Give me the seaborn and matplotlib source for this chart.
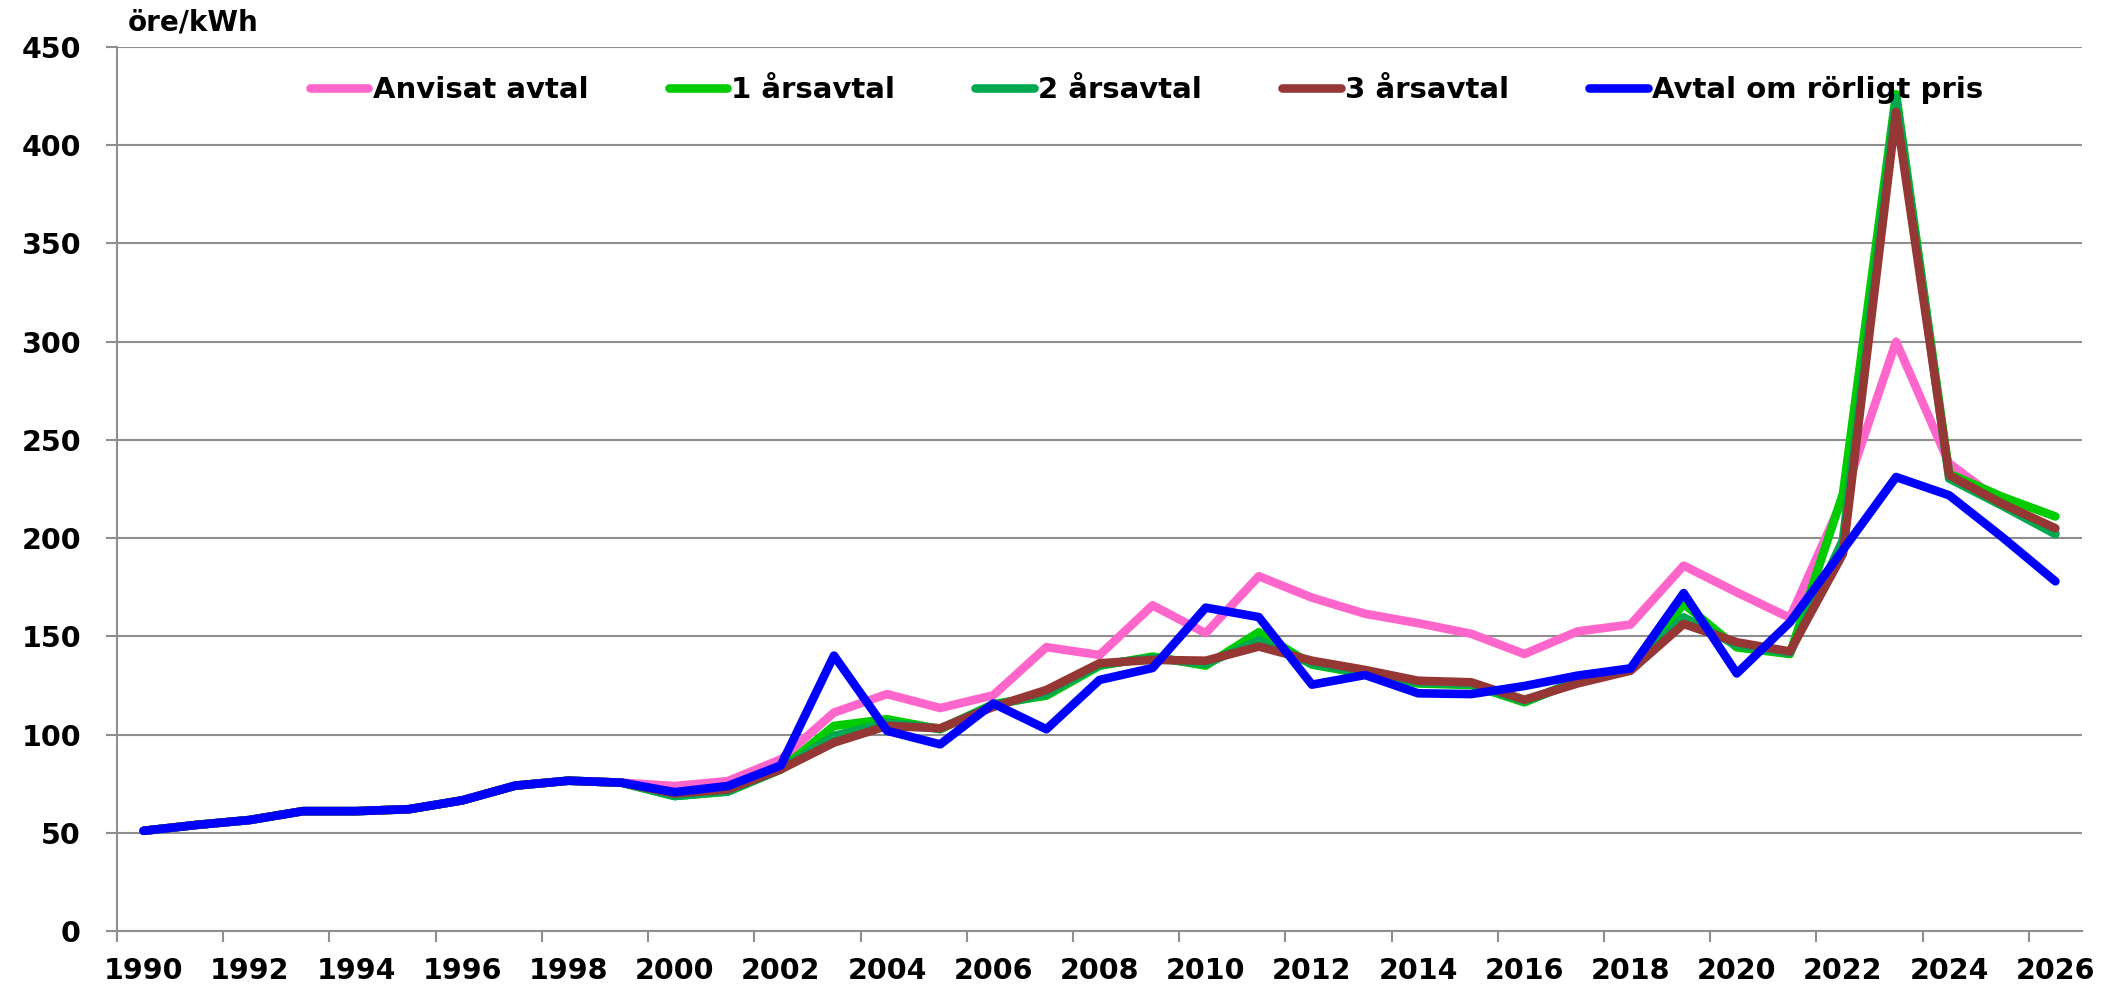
import numpy as np
import pandas as pd
import matplotlib
matplotlib.use("Agg")
import matplotlib.pyplot as plt
import seaborn as sns

# Years on the category axis
years = list(range(1990, 2027))

# Price per contract type, öre/kWh
common = [51, 54, 56.5, 61, 61, 62, 66.5, 74, 76.5, 75.5]

anvisat = common + [73.8, 76.3, 87.4, 111.2, 120.6, 113.5, 120, 144.5, 140.5, 165.8,
                    151.6, 180.6, 169.7, 161.5, 156.7, 151.3, 141, 152.5, 156, 186,
                    172.4, 159.4, 220, 300, 238, 218, 202.5]
ars1 = common + [68.7, 71, 82.3, 104.4, 107.8, 102.7, 115.5, 119.8, 135, 139.7,
                 135.1, 152.1, 135.6, 130.8, 126, 125.2, 116.4, 127.4, 133, 166.5,
                 144.4, 141, 222.6, 426, 232.8, 221, 211]
ars2 = common + [68.7, 71, 82.3, 99.3, 106, 103, 115, 120.5, 135.5, 139,
                 136, 148, 136, 131.5, 126.5, 125.8, 117, 127, 133, 159.7,
                 145.5, 141.5, 199, 424, 230.3, 216.5, 202]
ars3 = common + [70, 72, 82.3, 95.9, 104.4, 103.2, 114.1, 122.7, 136.3, 138,
                 137.6, 144.8, 137.6, 132.9, 127.4, 126.6, 117.7, 126, 132.5, 156.3,
                 147, 142.3, 192, 417, 232, 217.5, 205]
rorligt = common + [70.7, 73.8, 84.3, 140.2, 101.9, 95, 115.8, 102.7, 127.8, 133.9,
                    164.6, 159.8, 125.4, 130.3, 121, 120.6, 124.7, 130, 133.7, 172,
                    131.1, 157.1, 194, 231.1, 221.8, 200.5, 178]

series_names = ["Anvisat avtal", "1 årsavtal", "2 årsavtal", "3 årsavtal",
                "Avtal om rörligt pris"]
series_values = [anvisat, ars1, ars2, ars3, rorligt]
colors = ["#FF66CC", "#00CC00", "#00A850", "#953735", "#0000FF"]

y_ticks = list(range(0, 451, 50))
unit_label = "öre/kWh"

# Long-form table; each year sits in the middle of its category slot
rows = []
for name, vals in zip(series_names, series_values):
    for i, (yr, v) in enumerate(zip(years, vals)):
        rows.append({"pos": i + 0.5, "year": yr, "value": v, "serie": name})
df = pd.DataFrame(rows)

sns.set_theme(style="white")
plt.rcParams["font.family"] = ["DejaVu Sans"]
plt.rcParams["font.weight"] = "bold"
plt.rcParams["text.color"] = "black"
plt.rcParams["xtick.color"] = "black"
plt.rcParams["ytick.color"] = "black"

grid_col = "#8E8E8E"

fig = plt.figure(figsize=(21.13, 9.86), dpi=100)
ax = fig.add_axes([0.0554, 0.0558, 0.9299, 0.8965])

sns.lineplot(data=df, x="pos", y="value", hue="serie", hue_order=series_names,
             palette=colors, linewidth=6.2, sort=False, legend=False, ax=ax)
for ln in ax.lines:
    ln.set_solid_capstyle("round")
    ln.set_solid_joinstyle("round")

ax.set_xlim(0, len(years))
ax.set_ylim(0, 450)
ax.set_xlabel("")
ax.set_ylabel("")

# Category boundaries every second year carry the tick marks,
# labels sit centred in the category
ax.set_xticks(np.arange(0, len(years), 2))
ax.set_xticklabels([])
ax.set_xticks(np.arange(0.5, len(years), 2), minor=True)
ax.set_xticklabels([str(y) for y in years[::2]], minor=True)
ax.tick_params(axis="x", which="major", length=8, width=1.5, color=grid_col,
               direction="out", bottom=True)
ax.tick_params(axis="x", which="minor", length=0, pad=19, labelsize=20.5,
               labelcolor="black")

ax.set_yticks(y_ticks)
ax.tick_params(axis="y", length=8, width=1.5, color=grid_col, direction="out",
               left=True, pad=18, labelsize=20.5, labelcolor="black")
for lab in ax.get_xticklabels(minor=True) + ax.get_yticklabels():
    lab.set_fontweight("bold")
    lab.set_color("black")

ax.grid(axis="y", color=grid_col, linewidth=1.5)
ax.grid(axis="x", visible=False)
ax.set_axisbelow(True)
for side in ["top", "right"]:
    ax.spines[side].set_visible(False)
for side in ["left", "bottom"]:
    ax.spines[side].set_color(grid_col)
    ax.spines[side].set_linewidth(1.5)
    ax.spines[side].set_zorder(0.5)

fig.text(0.0606, 0.977, unit_label, fontsize=20, fontweight="bold",
         color="black", ha="left", va="center")

leg = ax.legend(ax.lines[:5], series_names, loc="center left",
                bbox_to_anchor=(0.1467, 0.9087), bbox_transform=fig.transFigure,
                ncol=5, frameon=False, fontsize=21, handlelength=2.0,
                handletextpad=0.15, columnspacing=2.75, borderpad=0,
                borderaxespad=0)
for t in leg.get_texts():
    t.set_fontweight("bold")
    t.set_color("black")
for h in leg.get_lines():
    h.set_solid_capstyle("round")

fig.savefig("out.png", dpi=100)
